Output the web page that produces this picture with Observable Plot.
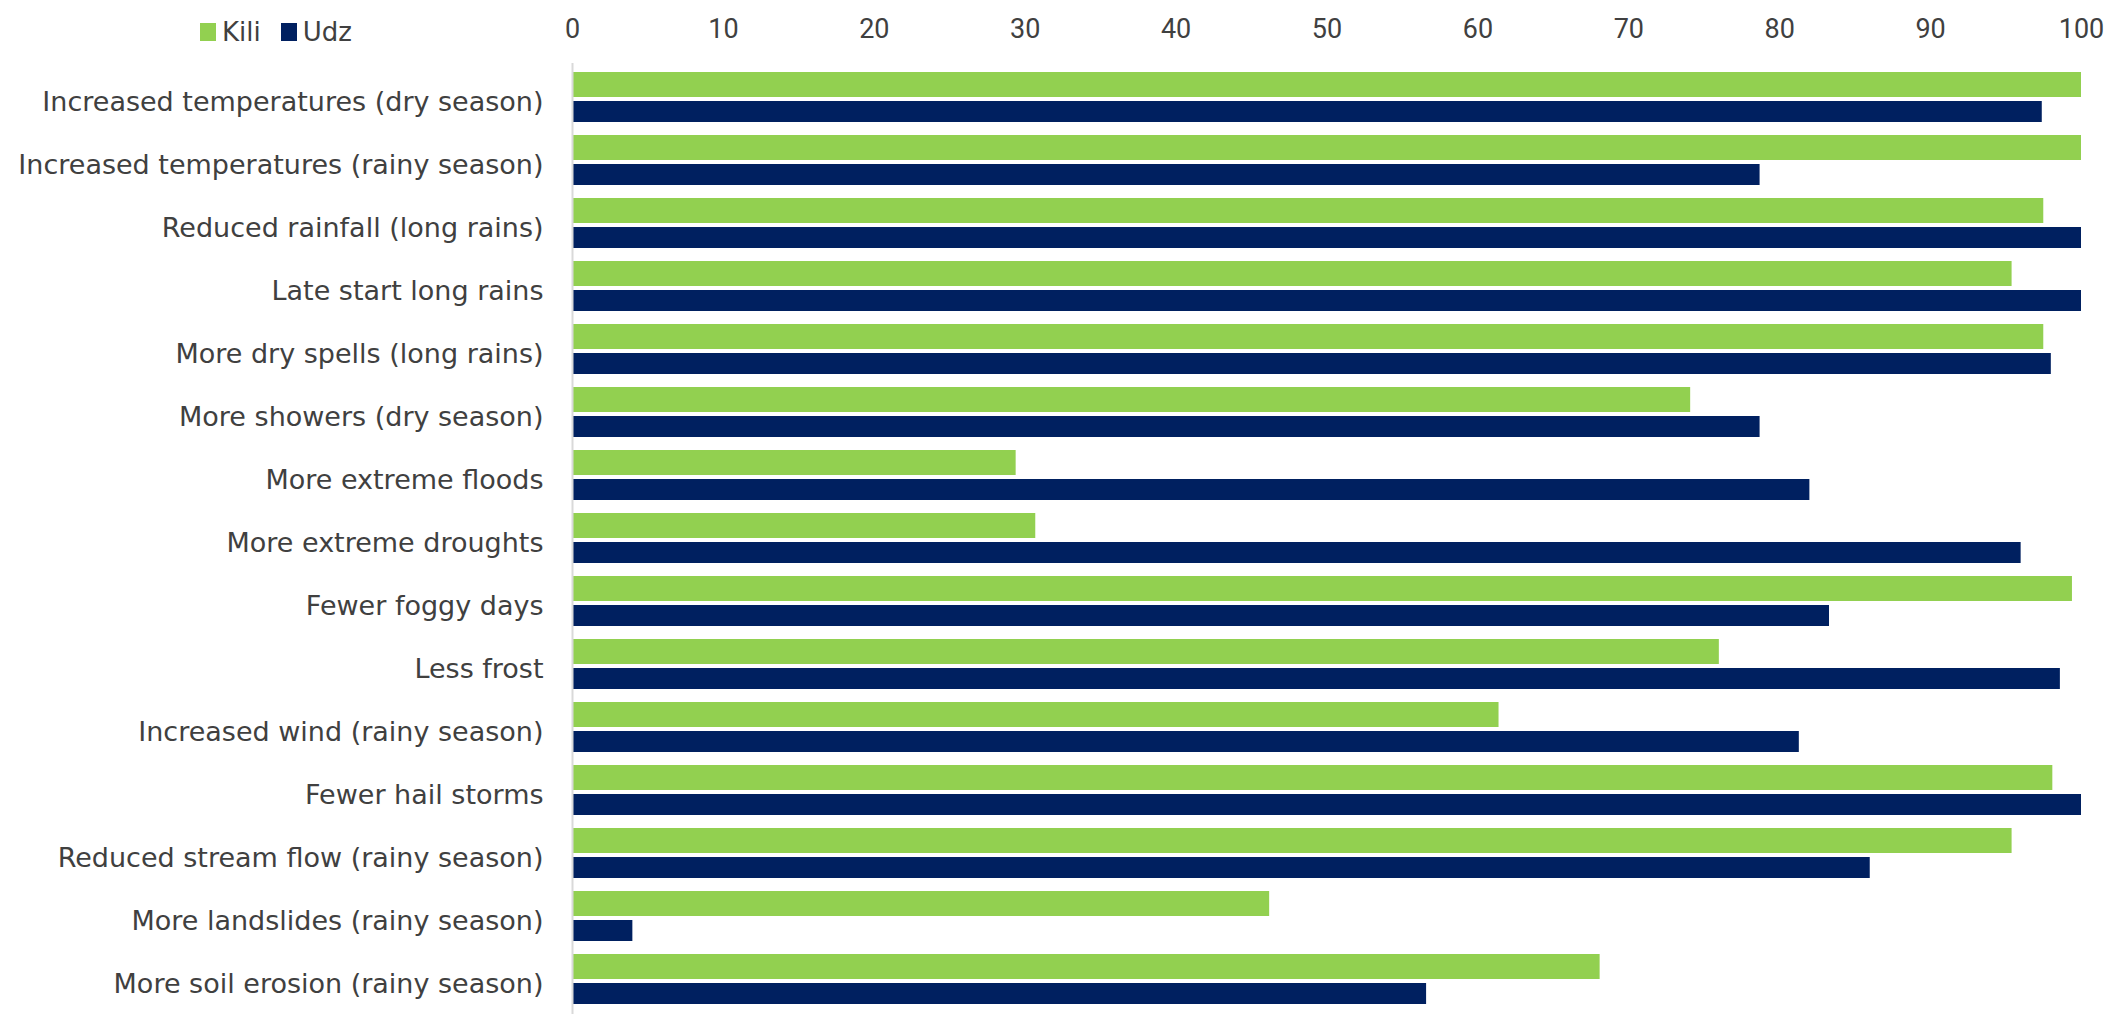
<!DOCTYPE html>
<html>
<head>
<meta charset="utf-8">
<script src="https://cdn.jsdelivr.net/npm/d3@7"></script>
<script src="https://cdn.jsdelivr.net/npm/@observablehq/plot@0.6"></script>
<style>
  html, body { margin: 0; padding: 0; background: #fff; }
  #wrap { position: relative; width: 2118px; height: 1030px; }
  #legend { position: absolute; left: 200px; top: 17px; display: flex; align-items: center;
            font-family: "DejaVu Sans", sans-serif; font-size: 26px; color: #404040; }
  .sw { display: inline-block; width: 16px; height: 18px; margin-right: 6px; }
  .item { display: flex; align-items: center; margin-right: 20px; }
</style>
</head>
<body>
<div id="wrap">
  <div id="legend"></div>
  <div id="chart"></div>
</div>
<script>
const categories = [
  "Increased temperatures (dry season)",
  "Increased temperatures (rainy season)",
  "Reduced rainfall (long rains)",
  "Late start long rains",
  "More dry spells (long rains)",
  "More showers (dry season)",
  "More extreme floods",
  "More extreme droughts",
  "Fewer foggy days",
  "Less frost",
  "Increased wind (rainy season)",
  "Fewer hail storms",
  "Reduced stream flow (rainy season)",
  "More landslides (rainy season)",
  "More soil erosion (rainy season)"
];
const kili = [100, 100, 97.5, 95.4, 97.5, 74.1, 29.4, 30.7, 99.4, 76.0, 61.4, 98.1, 95.4, 46.2, 68.1];
const udz  = [97.4, 78.7, 100, 100, 98.0, 78.7, 82.0, 96.0, 83.3, 98.6, 81.3, 100, 86.0, 4.0, 56.6];
const seriesNames = ["Kili", "Udz"];
const seriesColors = ["#92d050", "#002060"];
const xTicks = [0, 10, 20, 30, 40, 50, 60, 70, 80, 90, 100];

const kiliData = categories.map((c, i) => ({category: c, value: kili[i]}));
const udzData = categories.map((c, i) => ({category: c, value: udz[i]}));

const chart = Plot.plot({
  width: 2118,
  height: 1030,
  marginLeft: 572,
  marginRight: 37,
  marginTop: 63,
  marginBottom: 16,
  style: {fontFamily: "DejaVu Sans, sans-serif", fontSize: "27px", color: "#404040", background: "#fff"},
  x: {domain: [0, 100], axis: null},
  y: {domain: categories, paddingInner: 0.2, paddingOuter: 0.08, axis: null},
  marks: [
    Plot.barX(kiliData, {y: "category", x: "value", fill: seriesColors[0], insetBottom: 25}),
    Plot.barX(udzData, {y: "category", x: "value", fill: seriesColors[1], insetTop: 29}),
    Plot.ruleX([0], {stroke: "#d9d9d9", strokeWidth: 2}),
    Plot.axisX({anchor: "top", ticks: xTicks, tickSize: 0, tickPadding: 26, label: null,
                fontSize: 27, fontFamily: "Liberation Sans Narrow, Roboto, sans-serif"}),
    Plot.axisY({anchor: "left", tickSize: 0, tickPadding: 29, label: null, fontSize: 27, dy: 5})
  ]
});
document.getElementById("chart").appendChild(chart);

const legend = document.getElementById("legend");
seriesNames.forEach((name, i) => {
  const item = document.createElement("div");
  item.className = "item";
  const sw = document.createElement("span");
  sw.className = "sw";
  sw.style.background = seriesColors[i];
  const t = document.createElement("span");
  t.textContent = name;
  item.appendChild(sw);
  item.appendChild(t);
  legend.appendChild(item);
});
</script>
</body>
</html>
